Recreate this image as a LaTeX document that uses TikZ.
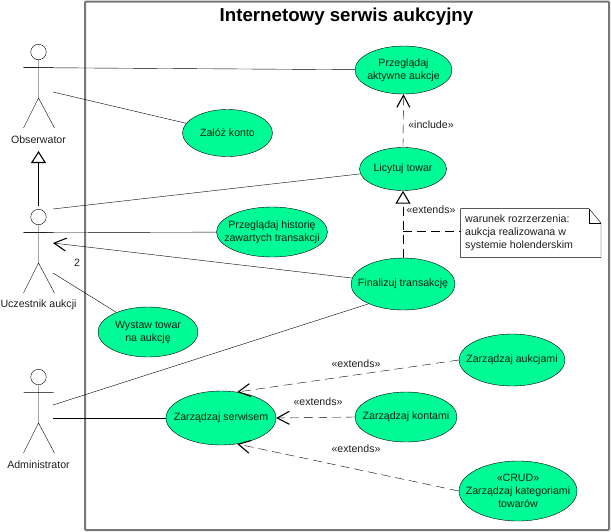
\documentclass[tikz,border=0pt]{standalone}
\usepackage{fontspec}
\setmainfont{Liberation Sans}
\usetikzlibrary{arrows.meta,shapes.geometric}
\definecolor{usecasefill}{RGB}{0,250,150}
\definecolor{framegray}{RGB}{120,120,120}
\definecolor{inktext}{RGB}{30,30,30}
\tikzset{
  x=1pt,y=-1pt,
  line width=1.3pt,
  base text/.style={font=\fontsize{10.6pt}{13pt}\selectfont,text=inktext},
  usecase/.style={ellipse,draw=black,fill=usecasefill,inner sep=0pt},
  case text/.style={base text,inner sep=0pt,align=center,text=black!85!usecasefill},
  label text/.style={base text,inner sep=0pt,align=center},
  assoc/.style={draw=black},
  openarrow/.style={dash pattern=on 9pt off 5pt,-{Straight Barb[length=12pt,width=13pt,line width=1.1pt]}},
  navarrow/.style={-{Straight Barb[length=12pt,width=13pt,line width=1.1pt]}},
  genarrow/.style={-{Triangle[open,length=12pt,width=15pt,line width=1.1pt]}},
  extarrow/.style={dash pattern=on 9pt off 5pt,-{Triangle[open,length=13pt,width=15pt,line width=1.1pt]}},
}
% Stick figure: head node <name>, and named ends on arms and to the right of the body
\newcommand{\stickman}[4]{%
  \node[circle,draw=black,inner sep=0pt,minimum size=15.5pt] (#1) at (#2,#3) {};
  \coordinate (#1hip) at (#2,#3+46);
  \coordinate (#1armL) at (#2-15,#3+15.6);
  \coordinate (#1armR) at (#2+15,#3+15.6);
  \coordinate (#1legL) at (#2-15,#3+76);
  \coordinate (#1legR) at (#2+16,#3+76);
  \draw (#1.south) -- (#1hip) (#1armL) -- (#1armR) (#1legL) -- (#1hip) -- (#1legR);
  \node[label text] (#1name) at (#2,#3+88) {#4};
}
% Use case: an ellipse of the given size with its text centred on it
\newcommand{\usecasenode}[6]{%
  \node[usecase,minimum width=#2pt,minimum height=#3pt,label={[case text]center:{#6}}] (#1) at (#4,#5) {};
}
\begin{document}
\begin{tikzpicture}
\useasboundingbox (0,0) rectangle (611,531);
% system boundary
\draw[framegray,line width=2pt,rounded corners=1pt] (85,1.5) rectangle (609,530);
\node[font=\bfseries\fontsize{18.7pt}{20pt}\selectfont,text=black,inner sep=0pt] (title) at (346.5,17) {Internetowy serwis aukcyjny};

% actors
\stickman{obs}{38.5}{52}{Obserwator}
\stickman{part}{38.5}{217}{Uczestnik aukcji}
\stickman{adm}{38.5}{377}{Administrator}

% use cases
\usecasenode{active}{97}{48}{403.5}{70}{Przeglądaj\\aktywne aukcje}
\usecasenode{account}{90}{47}{227.5}{133}{Załóż konto}
\usecasenode{bid}{87}{43}{403}{169}{Licytuj towar}
\usecasenode{history}{111}{50}{272}{232}{Przeglądaj historię\\zawartych transakcji}
\usecasenode{finish}{104}{52}{403}{284}{Finalizuj transakcję}
\usecasenode{offer}{100}{50}{148}{332}{Wystaw towar\\na aukcję}
\usecasenode{manage}{110}{54}{221}{418}{Zarządzaj serwisem}
\usecasenode{auctions}{106}{52}{512}{360}{Zarządzaj aukcjami}
\usecasenode{accounts}{102}{50}{406}{417}{Zarządzaj kontami}
\usecasenode{categories}{118}{60}{518}{491}{«CRUD»\\Zarządzaj kategoriami\\towarów}

% free ends of associations beside the actors
\coordinate (obsA) at (53,92);
\coordinate (partA) at (53,209);
\coordinate (partB) at (53,243);
\coordinate (partC) at (53,273);
\coordinate (admA) at (53,405);
\coordinate (admB) at (53,418);
\coordinate (genStart) at (38.5,206);
\coordinate (genEnd) at (38.5,151);

% associations
\draw[assoc] (obsarmL) -- (active);
\draw[assoc] (obsA) -- (account);
\draw[assoc] (partA) -- (bid);
\draw[assoc] (partarmL) -- (history);
\draw[assoc] (partC) -- (offer);
\draw[assoc] (admA) -- (finish.210);
\draw[assoc] (admB) -- (manage);
\draw[navarrow] (finish) -- (partB);
\node[label text] (mult) at (77,263) {2};

% generalisation between actors
\draw[genarrow] (genStart) -- (genEnd);

% include and extend relations
\draw[openarrow] (bid.north) -- (active.south);
\node[label text] (incl) at (431,125) {«include»};
\draw[extarrow] (finish.north) -- (bid.south);
\node[label text] (ext0) at (431,209.5) {«extends»};
\draw[openarrow] (auctions.west) -- (manage.58);
\node[label text] (ext1) at (356,364) {«extends»};
\draw[openarrow] (accounts.west) -- (manage.east);
\node[label text] (ext2) at (318,402) {«extends»};
\draw[openarrow] (categories.west) -- (manage.302);
\node[label text] (ext3) at (356,449) {«extends»};

% note attached to the extend relation
\coordinate (noteTL) at (460.6,208.6);
\coordinate (noteTR) at (589,208.6);
\coordinate (noteFold) at (589,223);
\coordinate (noteEar) at (601,223);
\coordinate (noteBR) at (601,257.6);
\coordinate (noteBL) at (460.6,257.6);
\coordinate (noteJoin) at (403,231.6);
\coordinate (noteEdge) at (460.6,231.6);
\draw[dash pattern=on 9pt off 5pt] (noteJoin) -- (noteEdge);
\draw[fill=white] (noteTL) -- (noteTR) -- (noteEar) -- (noteBR) -- (noteBL) -- cycle;
\draw (noteTR) -- (noteFold) -- (noteEar);
\node[label text,align=left,anchor=west] (note) at (465,233) {warunek rozrzerzenia:\\aukcja realizowana w\\systemie holenderskim};
\end{tikzpicture}
\end{document}
